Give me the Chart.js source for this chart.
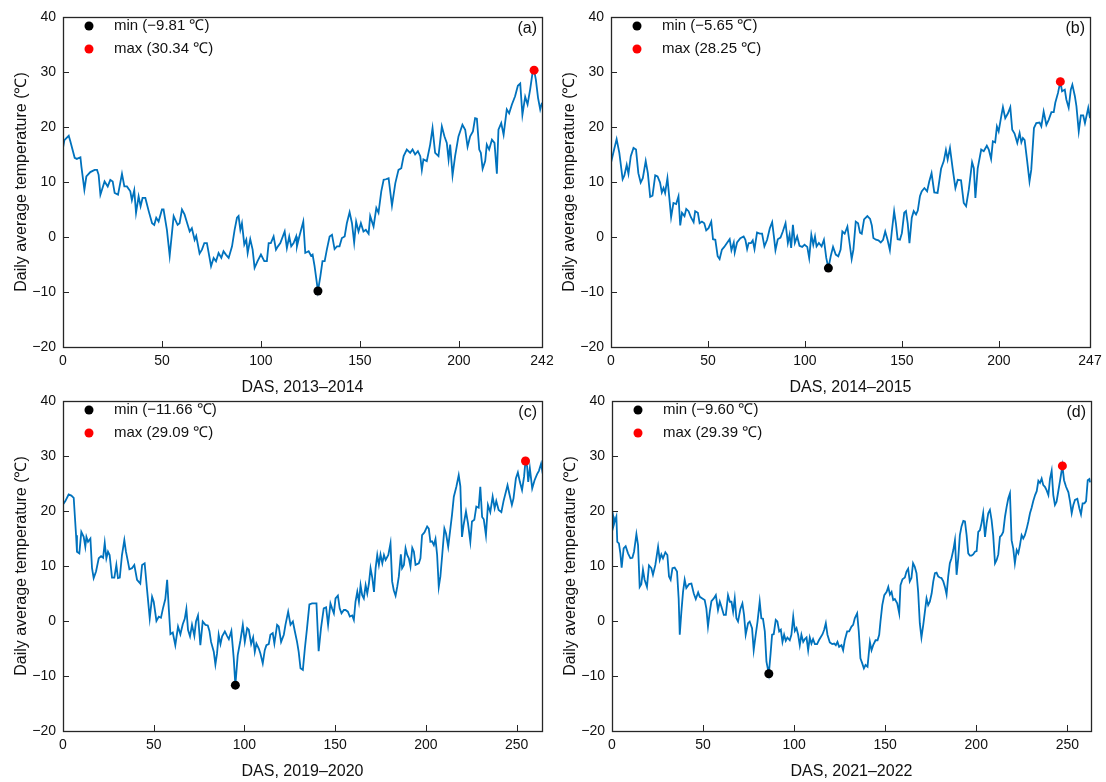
<!DOCTYPE html>
<html>
<head>
<meta charset="utf-8">
<script src="https://cdn.jsdelivr.net/npm/chart.js@4.4.1/dist/chart.umd.min.js"></script>
<style>
body { margin: 0; background: #fff; width: 1106px; height: 782px; position: relative; overflow: hidden; }
.panel { position: absolute; width: 558px; height: 398px; }
</style>
</head>
<body>
<div class="panel" style="left:0;top:0"><canvas id="chartA" width="558" height="398"></canvas></div>
<div class="panel" style="left:548px;top:0"><canvas id="chartB" width="558" height="398"></canvas></div>
<div class="panel" style="left:0;top:384px"><canvas id="chartC" width="558" height="398"></canvas></div>
<div class="panel" style="left:549px;top:384px"><canvas id="chartD" width="558" height="398"></canvas></div>
<script>
// (a) 2013-2014
const dasA = [0,0.7,2.9,3.7,5.9,7,8.8,9.3,10.8,11.8,13.8,16,17.2,18,18.9,21,22.6,23.9,25.1,26.1,27.8,29.8,31,32.3,34,34.8,36,36.9,38.2,39.2,40.2,41.6,43.3,45,46.1,47.1,48.3,50,50.8,52.5,53.9,55.9,57.9,58.9,60.1,61.4,64,65.1,66.5,67.3,69,70.2,71.4,72.7,73.6,74.8,76.1,77.3,78.6,80,81.1,82.3,83.7,85.4,86.7,87.9,88.7,89.6,90.4,91.6,92.6,93.3,94.6,95.8,96.8,98.3,100,101.7,103,103.9,105,106.4,107.6,108.6,109.8,112,113.1,114.3,115.3,116.5,117.8,118.2,119.4,121.4,122.4,124.1,125.3,126.1,127.1,128.8,130,131.1,132.2,133.3,134.7,135.9,137.2,138.4,139.7,140.9,142.3,143.4,144.8,146,147.1,148.1,149.3,150.5,151.8,153,154.4,155.2,156.9,158.3,159.4,160.8,162,163.1,164.5,166.2,167.9,169.5,170.9,172.1,173.7,175.4,176.6,177.9,179.3,180.5,181.3,182.1,183.8,185.5,186.7,188,189.7,191.4,192.7,193.9,194.8,195.6,196.8,198.1,199.8,201.8,203.2,204.4,205.7,207.1,208.2,209.1,210.3,211.1,212,213.3,214.1,215.3,216.7,218,219.2,220,221.4,222.6,224.2,225.4,226.8,228.4,229.8,231,232.1,233.5,234.7,236,237.2,238,238.9,240,241.1,242];
const tempA = [16.2,17.6,18.4,17.4,14.4,14.2,14.5,12.8,8.6,11.0,11.8,12.2,12.2,11.3,7.7,10.1,9.2,10.4,10.1,8.0,7.7,11.5,9.2,9.2,8.3,6.7,8.5,4.4,7.4,5.6,7.1,7.1,4.7,2.5,2.2,3.5,2.8,5.0,5.0,1.3,-3.4,3.8,2.2,2.5,5.0,4.1,1.0,1.6,-0.5,0.2,-3.0,-2.3,-1.1,-1.1,-2.9,-5.3,-3.8,-4.4,-2.9,-3.8,-2.6,-3.2,-3.8,-1.7,1.3,3.5,3.8,1.3,2.5,-1.4,-0.5,-2.9,-0.4,-2.3,-5.6,-4.4,-3.2,-4.4,-4.4,-1.1,-1.1,0.1,-2.3,-1.7,-1.1,1.0,-2.0,0.1,-1.7,-1.1,0.1,-1.7,0.1,2.8,-2.9,-2.6,-3.4,-3.2,-5.3,-9.81,-7.2,-4.4,-4.4,-2.3,0.1,0.4,-2.2,-1.7,-1.7,-0.2,0.1,2.5,4.5,2.5,-1.0,2.8,1.0,2.5,1.0,1.3,0.6,3.8,1.9,5.3,4.4,8.3,10.4,10.5,10.7,5.7,9.8,12.2,12.5,14.7,15.9,15.3,15.9,15.0,15.6,14.7,12.2,14.1,13.8,16.8,19.8,15.3,14.7,20.1,18.3,17.1,14.1,16.8,11.2,14.7,18.3,20.4,19.5,16.4,18.3,19.2,21.6,21.5,15.9,15.3,12.4,13.8,16.8,15.9,17.7,17.1,11.5,19.5,20.7,18.6,23.2,22.5,24.1,25.6,27.5,27.9,22.2,25.5,24.1,26.8,29.8,30.34,28.6,25.3,23.2,24.4];
const minA = [128.8, -9.81];
const maxA = [238, 30.34];
const legendA = [-9.81, 30.34];
const xTicksA = [0, 50, 100, 150, 200, 242];

// (b) 2014-2015
const dasB = [0,1.6,2.9,4.3,6,6.9,8.1,9,10.2,11.6,12.9,14.1,15.3,16.4,17.9,19,20.2,21.4,22.8,24,25.3,26.2,27.1,27.9,29.1,30,31,32.2,33.6,34.8,35.7,36.6,37.9,38.8,40,41.2,42.6,43.4,44.8,45.7,46.9,48.1,49.1,50.3,51.7,52.6,53.8,55,56,57.2,58.4,59.8,61.2,62.1,63.3,63.8,65,66.7,68.4,69.3,70.2,71,72.2,73.1,74,75.3,76.7,77.9,79.1,80.5,81.9,83.1,84,84.8,86,87.4,88.6,90,91.2,92.1,92.9,93.8,94.8,96,97.2,98.6,99.8,101.2,102.2,103.3,104.3,105.2,106,107.2,108.6,109.8,111,112.1,113.3,114.5,115.9,117.2,118.4,119.3,120.5,121.9,122.8,124.1,125,126.2,127.4,128.4,129.3,130.5,132.2,133.6,134.5,135.3,136.6,137.9,139.1,140.3,141.4,142.6,143.8,144.8,146,146.9,147.8,149,150,151.2,152.1,153,153.9,155.1,156.1,157.3,158.2,159.3,160.2,161.6,163,164.1,165.3,166.7,168.4,170.2,171.6,172.7,173.6,174.8,176.2,177.6,178.8,180.5,181.9,183.1,184.5,186.2,187.1,187.9,189.1,190.9,192.2,193.8,194.8,196,196.9,198.1,199,199.9,201.2,202.1,203.3,204.7,205.9,206.9,208.1,209.5,210.7,211.6,212.4,213.3,214.6,215.8,216.7,218.1,219.3,221,221.9,223.1,224.5,225.7,227.1,228.3,229.1,230.5,231.7,232.6,234,234.8,236,237.1,237.9,239.2,240,241.2,242.3,243.5,244.4,246.1,247];
const tempB = [13.5,15.9,17.8,15.3,10.5,11.2,13.1,11.5,14.7,16.2,15.9,11.6,9.9,10.7,13.8,11.6,7.3,7.5,11.2,11.0,9.9,8.1,8.9,8.0,10.7,7.4,3.6,6.2,6.0,7.4,2.1,4.4,3.8,5.1,4.7,3.6,2.7,4.7,4.4,2.5,2.8,2.5,1.2,1.6,2.8,-0.4,-0.5,-3.5,-4.0,-2.3,-1.8,-1.1,-0.4,-2.4,-1.0,-2.8,-1.0,-0.2,0.1,-0.5,-2.2,-1.1,-1.1,-0.6,-2.2,0.8,0.6,0.6,-1.7,-0.5,1.6,2.7,0.1,-2.4,-0.4,-0.1,1.0,2.5,-1.1,0.4,-2.0,2.2,-1.1,0.1,-1.6,-1.8,-1.4,-1.8,-3.8,0.4,-1.4,0.1,-1.7,-1.1,-1.7,-0.5,-3.8,-5.65,-3.5,-1.8,-3.2,-3.5,-2.3,1.0,0.6,1.9,-0.5,-4.0,-2.3,2.8,2.5,0.8,0.6,3.2,3.8,3.3,2.1,-0.2,-0.5,-0.6,-1.0,-0.5,1.0,-0.5,-2.4,1.0,4.7,2.5,-0.4,-0.5,0.7,4.4,4.7,2.5,-1.1,3.5,4.7,4.1,4.8,7.4,8.3,8.9,8.3,10.1,11.6,8.1,8.0,12.4,13.8,15.8,14.1,16.2,12.4,8.9,10.4,10.3,6.2,5.6,8.6,13.6,12.5,7.1,12.5,15.9,15.6,16.6,15.9,14.2,17.4,17.2,20.1,19.2,21.9,23.6,21.6,22.5,23.6,19.5,18.8,17.1,18.9,17.2,18.0,17.6,13.8,10.1,12.2,19.8,20.7,20.8,20.1,22.8,20.4,21.3,22.7,22.7,24.4,26.2,28.25,26.5,26.8,25.0,23.5,26.8,27.7,25.6,23.8,19.2,22.1,22.1,20.7,23.5,21.6];
const minB = [112.1, -5.65];
const maxB = [231.7, 28.25];
const legendB = [-5.65, 28.25];
const xTicksB = [0, 50, 100, 150, 200, 247];

// (c) 2019-2020
const dasC = [0,1.3,3.1,4.6,5.9,7.2,7.7,9,10.1,11.4,12.3,12.9,13.8,15.1,16,16.9,18.2,19.7,21,22.1,23,23.9,24.8,25.7,27,28.3,29.4,30.3,31.3,32.5,33.8,34.7,35.6,36.6,38,39.3,40.8,42.6,43.6,45,46.3,47.8,49.1,50,51.5,52.8,54,55.1,56.4,57.4,58.3,59.2,60.5,61.9,63.4,64.7,66,67.1,68,68.9,70,71.1,72.4,73.3,74.4,75.7,77,78.5,79.8,80.7,81.6,83.1,84,84.9,85.8,86.8,87.7,89.2,90.4,91.4,92.8,94.1,95,96.3,97.8,99.1,100.2,101.5,102.4,103.7,104.8,105.7,106.6,107.9,108.8,110.1,111.2,112.1,113.4,114.3,115.6,116.5,118,118.9,120.2,121.7,122.6,124.1,125.4,126.7,127.8,129,129.9,130.9,132.2,133.3,134.5,135.8,137.3,138.8,139.7,140.9,142.2,143.7,145,146.1,147.4,148.3,149.3,150.2,151.5,152.5,153.5,154.8,155.7,157,158.1,159.4,160.3,161.2,162.2,163.1,164,164.9,165.8,166.8,167.7,168.6,169.5,170.5,171.4,172.3,173.2,174.1,175,176,176.9,177.8,179.3,180.5,181.4,182.3,183.3,184.2,185.1,186.2,186.9,187.9,188.8,189.7,190.6,191.5,192.5,193.4,194.3,196.1,197,197.9,199.2,200.7,201.6,202.5,203.4,204.4,205.3,206.2,207.1,208,209,210.2,211.1,212.3,213.5,214.4,215.4,216.8,218.1,219,219.9,220.8,222.1,223.2,224.5,225.4,226.7,227.8,229.1,230,231,231.9,233.1,234.2,235.5,236.8,237.9,238.8,240.1,241.6,242.8,244.1,245,246.1,247.4,248.3,249.6,250.7,251.8,253,254.1,254.9,255.8,256.4,257.3,258.6,259.9,261.3,262.3,263.5,264.4];
const tempC = [21.2,21.8,23.0,22.8,22.4,15.6,12.6,12.3,16.2,15.3,13.5,15.3,14.4,15.0,9.6,7.8,9.0,11.4,11.8,11.5,14.2,11.4,12.6,12.0,7.9,7.9,10.2,7.8,7.9,12.0,14.7,12.6,11.1,9.4,9.6,10.2,7.5,6.8,10.2,10.5,5.8,0.5,4.4,3.5,0,0.8,0.6,2.3,4.0,7.5,2.3,-2.4,-2.1,-4.4,-1.0,-2.4,-0.6,0.4,2.2,-1.6,-2.8,-0.7,-2.7,-0.1,1.0,-4.4,-0.1,-0.7,-0.8,-1.8,-3.8,-5.6,-7.9,-5.9,-2.5,-4.2,-2.8,-1.9,-2.7,-3.3,-1.8,-6.8,-11.66,-6.2,-3.5,-0.7,-3.8,-1.3,-1.6,-4.2,-3.0,-5.6,-4.1,-5.0,-5.9,-7.7,-5.3,-4.4,-4.2,-2.5,-2.2,-4.1,-0.7,-1.0,-3.8,-2.5,-0.7,1.7,-0.7,-0.1,-1.9,-3.8,-5.6,-8.6,-8.9,-5.0,-1.3,3.0,3.2,3.2,3.2,-5.5,-1.3,2.3,2.5,-0.7,3.2,2.3,1.4,4.1,4.6,2.3,1.4,2.0,2.0,1.7,0.8,1.0,0.2,3.5,5.3,3.5,6.5,4.7,4.1,6.5,5.0,6.8,9.6,7.8,5.3,9.6,12.0,10.2,12.1,10.5,12.0,11.1,12.0,14.1,7.2,5.6,4.6,6.2,8.1,12.1,9.6,10.2,13.2,12.0,11.4,9.9,13.3,12.6,10.2,10.5,11.4,15.6,16.1,17.2,16.8,14.4,14.5,13.8,14.9,12.0,6.2,8.1,12.0,16.8,15.9,13.5,16.8,19.3,22.6,24.4,26.5,24.5,15.3,17.5,19.9,17.8,14.4,18.1,18.4,20.8,20.6,24.4,18.9,18.5,15.6,21.1,19.8,22.6,20.5,21.8,20.2,19.8,21.8,23.5,24.7,23.0,21.1,22.3,25.9,27.0,25.3,23.8,26.2,29.09,28.1,25.3,27.8,24.1,25.6,26.7,27.3,28.6,26.8];
const minC = [95, -11.66];
const maxC = [254.9, 29.09];
const legendC = [-11.66, 29.09];
const xTicksC = [0, 50, 100, 150, 200, 250];

// (d) 2021-2022
const dasD = [0,0.7,1,1.5,2.4,2.9,3.8,4.6,5.3,6.4,7.5,8.8,10.1,11.2,12.1,13.4,14.3,15.2,16.1,17,17.9,19.2,20.3,21.6,22.5,23.8,25.3,26.2,27.1,28,29.3,30.4,31.3,32.2,33.2,34.4,35.7,36.6,37.2,38.1,39,39.9,40.8,42.3,43.6,44.9,46,47.3,48.2,49.6,50.9,51.8,52.7,53.7,54.6,55.9,57,58.2,59.2,60.1,61.4,62.5,63.7,64.7,65.6,66.5,67.4,68.3,69.2,70.5,71.6,72.5,73.4,74.7,75.6,76.9,77.8,78.9,79.9,81.1,82,82.9,83.9,84.8,86.1,87,87.9,88.8,89.9,90.8,91.8,92.7,93.6,94.5,95.4,96.3,97.6,98.5,99.5,100.4,101.3,102.2,103.1,104,105,105.9,106.8,107.7,108.6,109.5,110.4,111.4,112.6,113.6,114.5,115.6,116.5,117.4,118.3,119.6,120.9,122,122.9,123.8,124.7,126,126.9,127.8,129.1,130.2,131.5,132.4,133.3,134.6,135.5,136.4,137.4,138.3,139.2,140.3,141.6,142.5,143.4,144.7,145.8,146.7,147.4,148.4,149.5,150.8,151.7,152.6,153.5,154.4,155.3,156.6,157.7,158.4,159.5,160.8,161.7,162.6,163.5,164.4,165.3,166.2,167.2,168.1,169,169.9,170.9,171.8,172.7,173.6,174.5,175.5,176.4,177.3,178.2,179.1,180,180.9,181.9,182.8,183.7,184.6,185.5,186.4,187.4,188.3,189.2,190.1,191,191.9,192.9,193.8,194.7,195.6,196.5,197.4,198.3,199.3,200.2,201.1,202,202.9,203.8,204.8,205.7,206.6,207.5,208.4,209.3,210.3,211.2,212.1,213,213.9,214.8,215.8,216.7,217.6,218.5,219.4,220.3,221.2,222.2,223.1,224,224.9,225.8,226.7,227.7,228.6,229.5,230.4,231.3,232.3,233.2,234.1,235,235.9,236.8,237.7,238.6,239.6,240.5,241.4,242.3,243.2,244.1,245,246,247.3,248.2,249.3,250.6,251.5,252.4,253.3,254.2,255.5,256.6,257.5,258.4,259.4,260.3,261.2,262.1,262.5];
const tempD = [20.2,19.0,17.5,18.1,19.0,14.4,14.1,12.3,9.7,13.2,13.6,12.3,11.4,11.5,12.6,15.8,13.8,6.2,6.7,9.3,7.5,6.2,10.1,9.6,8.4,10.2,13.5,11.1,12.1,11.4,12.5,12.0,8.1,7.5,9.6,9.7,9.0,4.1,-2.5,1.7,5.3,7.5,6.0,6.7,6.8,5.0,4.0,5.2,4.4,4.1,3.8,2.3,-1.0,1.7,3.6,4.1,4.7,2.0,3.5,2.6,1.1,1.1,4.7,3.5,3.5,1.7,4.1,0.5,-0.1,2.2,3.2,1.1,-2.5,-0.4,-0.1,-1.3,-5.3,-2.5,-0.1,3.5,0.5,0.4,-1.9,-7.4,-9.6,-6.2,-2.5,-2.4,0.2,-0.1,-1.9,-1.6,-3.8,-2.5,-3.6,-3.0,-3.5,-2.5,0.8,-1.8,-1.3,-2.5,-4.4,-2.5,-3.8,-3.3,-3.0,-5.3,-3.0,-4.1,-3.3,-4.2,-4.2,-3.5,-3.0,-2.4,-1.6,-0.4,-2.5,-3.9,-4.2,-4.1,-4.4,-3.8,-4.7,-4.4,-5.3,-3.5,-1.9,-1.9,-1.0,-0.7,0.5,1.4,-1.9,-6.8,-7.7,-8.6,-8.0,-8.3,-3.8,-5.3,-4.4,-3.5,-3.5,-2.5,-0.1,2.9,4.7,5.3,6.2,4.8,5.3,3.8,4.0,3.2,1.4,6.5,7.6,7.9,9.0,9.5,7.2,7.8,10.5,9.9,8.7,5.3,-0.4,-3.0,-0.7,1.7,4.1,2.9,3.5,5.0,7.2,8.7,8.8,8.1,7.9,7.8,7.2,6.2,4.8,8.1,10.5,11.4,12.9,14.7,8.4,11.4,15.6,17.2,18.2,18.1,15.6,12.3,11.9,11.9,12.1,12.6,12.7,16.2,16.5,17.8,19.6,15.3,17.8,19.6,20.2,18.4,15.6,10.5,11.1,12.1,15.3,15.6,16.2,19.0,20.8,22.3,23.2,14.7,13.2,10.5,12.9,12.3,13.8,15.6,15.0,15.6,16.8,18.1,19.6,20.6,21.8,22.9,23.6,25.5,25.1,25.9,24.7,24.4,23.8,22.9,25.9,27.3,22.9,21.1,21.7,23.5,25.5,28.2,25.6,24.4,23.4,21.7,19.6,21.1,22.0,22.2,20.5,19.4,21.4,21.4,21.8,25.6,25.8,25.2];
const minD = [86.1, -9.6];
const maxD = [247.3, 28.2];
const legendD = [-9.60, 29.39];
const xTicksD = [0, 50, 100, 150, 200, 250];

const yTicks = [-20, -10, 0, 10, 20, 30, 40];
const FONT = "'Liberation Sans', Arial, Helvetica, sans-serif";

// frame, inward ticks, legend and panel letter
const framePlugin = {
	id: 'frame',
	afterDraw(chart) {
		const ctx = chart.ctx;
		const a = chart.chartArea;
		const xs = chart.scales.x, ys = chart.scales.y;
		ctx.save();
		ctx.strokeStyle = '#262626';
		ctx.lineWidth = 1;
		ctx.beginPath();
		xs.ticks.forEach(t => {
			if (t.value <= xs.min || t.value >= xs.max) return;
			const px = Math.round(xs.getPixelForValue(t.value)) + 0.5;
			ctx.moveTo(px, a.bottom);
			ctx.lineTo(px, a.bottom - 6);
		});
		ys.ticks.forEach(t => {
			if (t.value <= ys.min || t.value >= ys.max) return;
			const py = Math.round(ys.getPixelForValue(t.value)) + 0.5;
			ctx.moveTo(a.left, py);
			ctx.lineTo(a.left + 6, py);
		});
		ctx.stroke();
		ctx.lineWidth = 1.3;
		ctx.strokeRect(Math.round(a.left) + 0.5, Math.round(a.top) + 0.5, Math.round(a.width), Math.round(a.height));

		// legend
		ctx.font = '15px ' + FONT;
		ctx.textBaseline = 'middle';
		ctx.textAlign = 'left';
		let row = 0;
		chart.data.datasets.forEach(ds => {
			if (!ds.legendText) return;
			const y = a.top + 9 + row * 23;
			ctx.fillStyle = ds.backgroundColor;
			ctx.beginPath();
			ctx.arc(a.left + 26, y, 4.5, 0, Math.PI * 2);
			ctx.fill();
			ctx.fillStyle = '#111';
			ctx.fillText(ds.legendText, a.left + 51, y);
			row++;
		});

		// panel letter
		ctx.font = '16px ' + FONT;
		ctx.textAlign = 'right';
		ctx.fillText(chart.options.panelLetter, a.right - 5, a.top + 12);
		ctx.restore();
	}
};

function fmt(v) {
	return v < 0 ? '\u2212' + Math.abs(v) : '' + v;
}

function fmt2(v) {
	return v < 0 ? '\u2212' + Math.abs(v).toFixed(2) : v.toFixed(2);
}

function makeChart(id, das, temps, minPt, maxPt, legendVals, xTicks, xMax, title, letter) {
	const points = das.map((d, i) => ({ x: d, y: temps[i] }));
	new Chart(document.getElementById(id), {
		type: 'line',
		data: {
			datasets: [
				{
					type: 'scatter',
					data: [{ x: minPt[0], y: minPt[1] }],
					backgroundColor: '#000000',
					pointRadius: 4.5,
					borderWidth: 0,
					legendText: 'min (' + fmt2(legendVals[0]) + ' \u2103)'
				},
				{
					type: 'scatter',
					data: [{ x: maxPt[0], y: maxPt[1] }],
					backgroundColor: '#ff0000',
					pointRadius: 4.5,
					borderWidth: 0,
					legendText: 'max (' + fmt2(legendVals[1]) + ' \u2103)'
				},
				{
					data: points,
					borderColor: '#0072BD',
					borderWidth: 1.8,
					pointRadius: 0,
					tension: 0,
					fill: false
				}
			]
		},
		options: {
			responsive: false,
			animation: false,
			panelLetter: letter,
			layout: { padding: { top: 17, right: 16, left: 0, bottom: 0 } },
			plugins: { legend: { display: false }, tooltip: { enabled: false } },
			scales: {
				x: {
					type: 'linear',
					min: 0,
					max: xMax,
					afterBuildTicks: s => { s.ticks = xTicks.map(v => ({ value: v })); },
					afterFit: s => { s.height = 51; s.paddingLeft = 0; s.paddingRight = 0; },
					grid: { display: false, drawTicks: false },
					border: { display: false },
					ticks: { color: '#111', font: { family: FONT, size: 14 }, padding: 6, maxRotation: 0, autoSkip: false },
					title: { display: true, text: title, color: '#111', font: { family: FONT, size: 16 }, padding: { top: 0, bottom: 1 } }
				},
				y: {
					min: -20,
					max: 40,
					afterBuildTicks: s => { s.ticks = yTicks.map(v => ({ value: v })); },
					afterFit: s => { s.width = 63; },
					grid: { display: false, drawTicks: false },
					border: { display: false },
					ticks: { color: '#111', font: { family: FONT, size: 14 }, padding: 7, callback: v => fmt(v) },
					title: { display: true, text: 'Daily average temperature (\u2103)', color: '#111', font: { family: FONT, size: 16 }, padding: { top: 12, bottom: 0 } }
				}
			}
		},
		plugins: [framePlugin]
	});
}

makeChart('chartA', dasA, tempA, minA, maxA, legendA, xTicksA, 242, 'DAS, 2013\u20132014', '(a)');
makeChart('chartB', dasB, tempB, minB, maxB, legendB, xTicksB, 247, 'DAS, 2014\u20132015', '(b)');
makeChart('chartC', dasC, tempC, minC, maxC, legendC, xTicksC, 264, 'DAS, 2019\u20132020', '(c)');
makeChart('chartD', dasD, tempD, minD, maxD, legendD, xTicksD, 263, 'DAS, 2021\u20132022', '(d)');
</script>
</body>
</html>
